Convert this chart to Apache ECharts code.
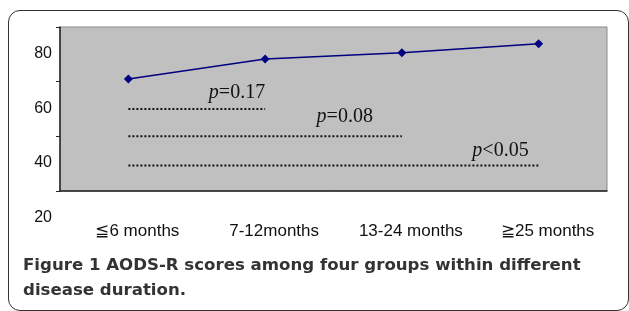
<!DOCTYPE html>
<html>
<head>
<meta charset="utf-8">
<script src="https://cdn.jsdelivr.net/npm/echarts@6/dist/echarts.min.js"></script>
<style>
  html, body { margin: 0; padding: 0; background: #fff; }
  #wrap { position: relative; width: 629px; height: 311px; overflow: hidden; }
  #chart { position: absolute; left: 0; top: 0; width: 629px; height: 311px; }
  #frame { position: absolute; left: 8px; top: 10px; width: 619px; height: 299px;
           border: 1.5px solid #333; border-radius: 12px; pointer-events: none; }
</style>
</head>
<body>
<div id="wrap">
  <div id="chart"></div>
  <div id="frame"></div>
</div>
<script>
// 数据
var categories = ['≦6 months', '7-12months', '13-24 months', '≧25 months'];
var scores = [61.0, 68.3, 70.6, 73.9];
var yTicks = [20, 40, 60, 80];
// 比较线: 文字, 高度, 结束组
var pTexts = ['p=0.17', 'p=0.08', 'p<0.05'];
var pLevels = [50.0, 40.0, 29.3];
var pEnds = [1, 2, 3];
var pOffsets = [[0, -16], [-29, -20], [-10, -15]];

var myChart = echarts.init(document.getElementById('chart'));

var series = [{
    name: 'AODS-R',
    type: 'line',
    data: scores,
    symbol: 'diamond',
    symbolSize: 9,
    itemStyle: { color: '#000080' },
    lineStyle: { color: '#000080', width: 1.5 },
    z: 5
}];

pTexts.forEach(function (t, i) {
    var d = [];
    for (var k = 0; k <= pEnds[i]; k++) {
        if (k === pEnds[i]) {
            d.push({
                value: pLevels[i],
                label: {
                    show: true,
                    position: 'inside',
                    align: 'right',
                    verticalAlign: 'middle',
                    offset: pOffsets[i],
                    formatter: '{i|' + t.charAt(0) + '}' + t.slice(1),
                    fontFamily: 'Liberation Serif',
                    fontSize: 20,
                    color: '#111',
                    rich: { i: { fontStyle: 'italic', fontFamily: 'Liberation Serif', fontSize: 20, color: '#111' } }
                }
            });
        } else {
            d.push(pLevels[i]);
        }
    }
    series.push({
        type: 'line',
        data: d,
        symbol: 'circle',
        symbolSize: 0.1,
        itemStyle: { color: 'rgba(0,0,0,0)' },
        lineStyle: { color: '#111', width: 2, type: [2, 2] },
        silent: true,
        z: 3
    });
});

var option = {
    animation: false,
    title: {
        text: 'Figure 1 AODS-R scores among four groups within different\ndisease duration.',
        left: 23,
        top: 253,
        padding: 0,
        textStyle: {
            fontFamily: 'DejaVu Sans',
            fontWeight: 'bold',
            fontSize: 16.6,
            lineHeight: 25,
            color: '#333'
        }
    },
    grid: {
        left: 60,
        right: 22,
        top: 27,
        bottom: 120,
        outerBoundsMode: 'none',
        containLabel: false,
        show: true,
        backgroundColor: '#c0c0c0',
        borderColor: '#8a8a8a',
        borderWidth: 1
    },
    xAxis: {
        type: 'category',
        data: categories,
        boundaryGap: true,
        axisLine: { lineStyle: { color: '#222', width: 1.5 } },
        axisTick: { inside: true, length: 5, lineStyle: { color: '#222' } },
        axisLabel: {
            margin: 32,
            padding: [0, 0, 0, 18],
            fontFamily: 'Liberation Sans',
            fontSize: 17,
            color: '#111'
        },
        splitLine: { show: false }
    },
    yAxis: {
        type: 'value',
        min: yTicks[0],
        max: yTicks[yTicks.length - 1],
        interval: 20,
        axisLine: { show: true, lineStyle: { color: '#222', width: 1.5 } },
        axisTick: { show: true, length: 4, lineStyle: { color: '#222' } },
        axisLabel: {
            margin: 8,
            showMinLabel: true,
            showMaxLabel: true,
            // 标签整体下移约半格
            verticalAlign: 'top',
            lineHeight: 53,
            fontFamily: 'Liberation Sans',
            fontSize: 16,
            color: '#111'
        },
        splitLine: { show: false }
    },
    series: series
};
myChart.setOption(option);
</script>
</body>
</html>
